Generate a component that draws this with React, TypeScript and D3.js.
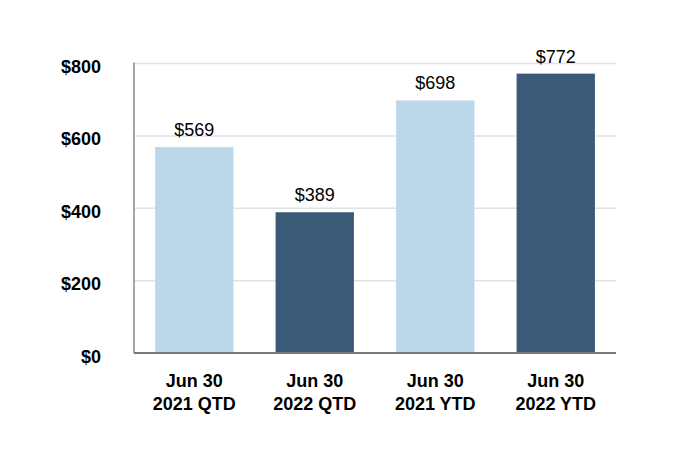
import React from "react";
import * as d3 from "d3";

const categories = ["Jun 30|2021 QTD", "Jun 30|2022 QTD", "Jun 30|2021 YTD", "Jun 30|2022 YTD"];
const values = [569, 389, 698, 772];
const barColors = ["#bdd7ea", "#3b5a78", "#bdd7ea", "#3b5a78"];
const yTicks = [0, 200, 400, 600, 800];

export default function App() {
  const W = 680, H = 476;
  const left = 134, right = 616, top = 63.5, bottom = 353;
  const x = d3.scaleBand<string>().domain(categories).range([left, right]).paddingInner(0.35).paddingOuter(0.175);
  const y = d3.scaleLinear().domain([0, 800]).range([bottom, top]);
  const font = "'Liberation Sans', Arial, sans-serif";
  return (
    <svg width={W} height={H} style={{ position: "absolute", left: 0, top: 0 }} fontFamily={font}>
      <rect width={W} height={H} fill="#fff" />
      {yTicks.filter(t => t > 0).map(t => (
        <line key={t} x1={left} x2={right} y1={y(t)} y2={y(t)} stroke="#e2e2e2" strokeWidth={1.5} />
      ))}
      {yTicks.map(t => (
        <text key={t} x={101} y={y(t) + 9.5} textAnchor="end" fontSize={18} fontWeight="bold" fill="#000">
          {"$" + t}
        </text>
      ))}
      {categories.map((c, i) => (
        <g key={c}>
          <rect x={x(c)} y={y(values[i])} width={x.bandwidth()} height={bottom - y(values[i])} fill={barColors[i]} />
          <text x={(x(c) as number) + x.bandwidth() / 2} y={y(values[i]) - 11} textAnchor="middle" fontSize={18} fill="#000">
            {"$" + values[i]}
          </text>
          {c.split("|").map((ln, j) => (
            <text key={j} x={(x(c) as number) + x.bandwidth() / 2} y={387 + j * 23} textAnchor="middle" fontSize={18} fontWeight="bold" fill="#000">
              {ln}
            </text>
          ))}
        </g>
      ))}
      <line x1={left} x2={left} y1={top - 1} y2={bottom} stroke="#8a8a8a" strokeWidth={1.5} />
      <line x1={left} x2={right} y1={bottom} y2={bottom} stroke="#777" strokeWidth={2} />
    </svg>
  );
}
